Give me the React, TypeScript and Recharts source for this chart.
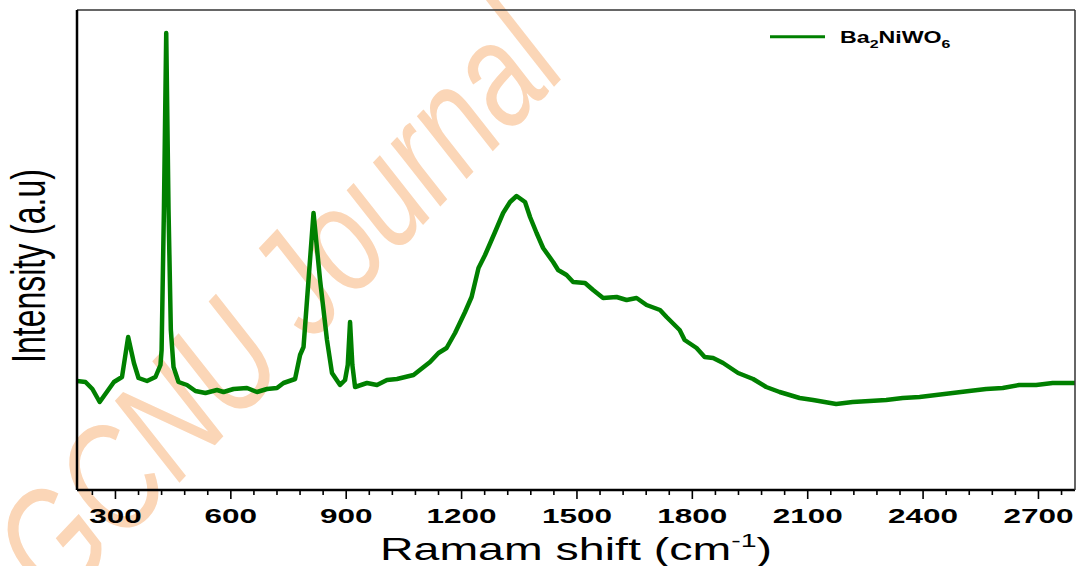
import { Label, Legend, Line, LineChart, XAxis, YAxis } from 'recharts'

// Raman spectrum of Ba2NiWO6, intensity in arbitrary units
const shift = [
  200, 222, 240, 259, 296, 317, 333, 348, 360, 382, 404, 417, 420, 426, 432, 438, 444, 451, 464, 486,
  508, 534, 564, 581, 607, 642, 668, 694, 720, 737, 767, 780, 789, 802, 815, 832, 850, 863, 884, 897,
  904, 910, 916, 923, 954, 980, 1006, 1032, 1075, 1118, 1140, 1161, 1183, 1209, 1226, 1244, 1261, 1287, 1308, 1326,
  1343, 1365, 1378, 1395, 1412, 1438, 1451, 1473, 1490, 1521, 1542, 1568, 1603, 1629, 1655, 1681, 1716, 1733, 1767, 1780,
  1811, 1832, 1854, 1880, 1919, 1958, 1992, 2027, 2079, 2114, 2174, 2217, 2261, 2304, 2347, 2391, 2434, 2477, 2520, 2564,
  2607, 2650, 2694, 2737, 2795,
]
const intensity = [
  109, 108, 101, 88, 108, 113, 153, 127, 112, 109, 113, 125, 140, 280, 457, 280, 160, 123, 108, 105,
  99, 97, 100, 98, 101, 102, 98, 101, 102, 107, 111, 135, 143, 210, 277, 210, 150, 117, 105, 110,
  125, 168, 125, 103, 107, 105, 110, 111, 115, 128, 137, 142, 157, 178, 193, 222, 235, 258, 277, 288,
  294, 288, 273, 257, 242, 228, 220, 215, 208, 207, 200, 192, 193, 190, 192, 185, 180, 173, 160, 150,
  142, 133, 132, 127, 117, 111, 103, 98, 92, 90, 86, 88, 89, 90, 92, 93, 95, 97, 99, 101,
  102, 105, 105, 107, 107,
]

const majorTicks = [300, 600, 900, 1200, 1500, 1800, 2100, 2400, 2700]
const minorStep = 60
const allTicks = Array.from({ length: 43 }, (_, i) => 240 + i * minorStep)

const data = shift.map((x, i) => ({ x, y: intensity[i] }))

const font = '"Liberation Sans", Arial, sans-serif'
const green = '#008000'

const XTick = (props: any) => {
  const { x, y, payload } = props
  const major = majorTicks.includes(payload.value)
  return (
    <g>
      <line x1={x} y1={y} x2={x} y2={y + (major ? 9 : 5)} stroke="#000" strokeWidth={1.6} />
      {major && (
        <text
          transform={`translate(${x},${y + 33}) scale(1.5,1)`}
          textAnchor="middle"
          fontFamily={font}
          fontWeight="bold"
          fontSize={21}
          fill="#000"
        >
          {payload.value}
        </text>
      )}
    </g>
  )
}

const LegendBox = (props: any) => {
  const item = props.payload?.[0]
  return (
    <svg width={220} height={40}>
      <line x1={10} y1={16.7} x2={65} y2={16.7} stroke={item?.color ?? green} strokeWidth={3} />
      <text transform="translate(80,23.3) scale(1.45,1)" fontFamily={font} fontWeight="bold" fontSize={16} fill="#000">
        Ba<tspan fontSize={11} dy={5}>2</tspan>
        <tspan fontSize={16} dy={-5}>NiWO</tspan>
        <tspan fontSize={11} dy={5}>6</tspan>
      </text>
    </svg>
  )
}

export default function App() {
  return (
    <div style={{ position: 'absolute', left: 0, top: 0, width: 1080, height: 566, background: '#fff' }}>
      <svg width={1080} height={566} style={{ position: 'absolute', left: 0, top: 0 }}>
        <text
          transform="translate(59,610) rotate(-46.6)"
          fontFamily={font}
          fontStyle="italic"
          fontSize={150}
          textLength={744}
          lengthAdjust="spacingAndGlyphs"
          fill="#fbd6b7"
        >
          GCNU Journal
        </text>
      </svg>
      <div style={{ position: 'absolute', left: 0, top: 0 }}>
        <LineChart width={1080} height={566} data={data} margin={{ top: 9, right: 4, bottom: 75, left: 76 }}>
          <XAxis
            dataKey="x"
            type="number"
            domain={[200, 2795]}
            ticks={allTicks}
            interval={0}
            height={1}
            tickSize={0}
            tickMargin={0}
            tickLine={false}
            tick={<XTick />}
            axisLine={{ stroke: '#000', strokeWidth: 2.5 }}
            allowDataOverflow
          >
            <Label
              content={({ viewBox }: any) => (
                <text
                  transform={`translate(${viewBox.x + viewBox.width / 2},${viewBox.y + 70}) scale(1.5,1)`}
                  textAnchor="middle"
                  fontFamily={font}
                  fontSize={31}
                  fill="#000"
                >
                  Ramam shift (cm<tspan fontSize={19} dy={-13}>-1</tspan>
                  <tspan fontSize={31} dy={13}>)</tspan>
                </text>
              )}
            />
          </XAxis>
          <XAxis
            xAxisId="top"
            orientation="top"
            type="number"
            domain={[200, 2795]}
            height={1}
            tick={false}
            tickLine={false}
            axisLine={{ stroke: '#333', strokeWidth: 1.5 }}
          />
          <YAxis
            type="number"
            domain={[0, 480]}
            width={1}
            tick={false}
            tickLine={false}
            axisLine={{ stroke: '#000', strokeWidth: 2.5 }}
          >
            <Label
              content={() => (
                <text
                  transform="translate(45,266) scale(1.5,1) rotate(-90)"
                  textAnchor="middle"
                  fontFamily={font}
                  fontSize={32}
                  fill="#000"
                >
                  Intensity (a.u)
                </text>
              )}
            />
          </YAxis>
          <YAxis
            yAxisId="right"
            orientation="right"
            type="number"
            domain={[0, 480]}
            width={1}
            tick={false}
            tickLine={false}
            axisLine={{ stroke: '#333', strokeWidth: 1.5 }}
          />
          <Legend
            layout="horizontal"
            verticalAlign="middle"
            align="center"
            content={<LegendBox />}
            wrapperStyle={{ position: 'absolute', left: 760, top: 20, width: 220, height: 40 }}
          />
          <Line
            dataKey="y"
            name="Ba2NiWO6"
            type="linear"
            stroke={green}
            strokeWidth={4.5}
            strokeLinejoin="round"
            dot={false}
            isAnimationActive={false}
          />
        </LineChart>
      </div>
    </div>
  )
}
